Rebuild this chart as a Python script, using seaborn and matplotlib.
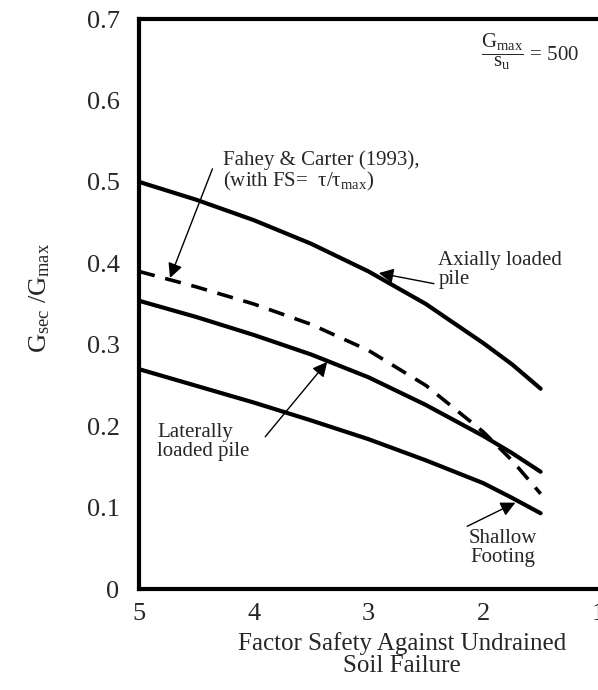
import numpy as np
import pandas as pd
import matplotlib
matplotlib.use("Agg")
import matplotlib.pyplot as plt
import seaborn as sns

# factor of safety (x axis runs from 5 down to 1)
fs = [5.0, 4.5, 4.0, 3.5, 3.0, 2.5, 2.0, 1.75, 1.5]

# Gsec/Gmax
axial = [0.500, 0.478, 0.453, 0.424, 0.390, 0.350, 0.302, 0.276, 0.246]
lateral = [0.354, 0.334, 0.312, 0.288, 0.260, 0.226, 0.188, 0.167, 0.144]
shallow = [0.270, 0.2495, 0.229, 0.207, 0.184, 0.158, 0.130, 0.112, 0.093]
fahey = [0.390, 0.371, 0.350, 0.325, 0.293, 0.250, 0.193, 0.158, 0.117]

x_ticks = [5, 4, 3, 2, 1]
y_ticks = [0, 0.1, 0.2, 0.3, 0.4, 0.5, 0.6, 0.7]
y_labels = ["0", "0.1", "0.2", "0.3", "0.4", "0.5", "0.6", "0.7"]

sns.set_style("white")
plt.rcParams["font.family"] = ["Liberation Serif", "DejaVu Serif"]
plt.rcParams["mathtext.fontset"] = "custom"
plt.rcParams["mathtext.rm"] = "Liberation Serif"
plt.rcParams["mathtext.it"] = "Liberation Serif:italic"

fig = plt.figure(figsize=(5.98, 6.90), dpi=100)
ax = fig.add_axes([139 / 598, 1 - 589 / 690, 459 / 598, 570 / 690])

df = pd.DataFrame({"fs": fs, "axial": axial, "lateral": lateral,
                   "shallow": shallow, "fahey": fahey})
for col in ["axial", "lateral", "shallow"]:
    sns.lineplot(data=df, x="fs", y=col, ax=ax, color="black", lw=3, sort=False)
sns.lineplot(data=df, x="fs", y="fahey", ax=ax, color="black", lw=2.6,
             sort=False, dashes=False, linestyle=(0, (4.5, 3)))

ax.set_xlim(5, 1)
ax.set_ylim(0, 0.7)
ax.set_xticks(x_ticks)
ax.set_xticklabels([str(t) for t in x_ticks])
ax.set_yticks(y_ticks)
ax.set_yticklabels(y_labels)
ax.tick_params(axis="both", direction="in", length=9, width=0.8,
               labelsize=19, color="#444444")
ax.tick_params(axis="y", pad=14)
ax.tick_params(axis="x", pad=10)

for s in ["left", "bottom", "top"]:
    ax.spines[s].set_linewidth(3)
    ax.spines[s].set_color("black")
ax.spines["right"].set_visible(False)

ax.set_xlabel("")
ax.set_ylabel(r"G$_{\mathrm{sec}}$ /G$_{\mathrm{max}}$", fontsize=19)
ax.yaxis.set_label_coords(-0.19, 0.51)

fig.text(402 / 598, 1 - 655 / 690, "Factor Safety Against Undrained\nSoil Failure",
         ha="center", va="center", fontsize=18, linespacing=1.0)

arrow = dict(arrowstyle="-|>", color="black", lw=1, mutation_scale=22,
             shrinkA=0, shrinkB=0)

ax.text(1.16, 0.660, r"$\dfrac{\mathrm{G_{max}}}{\mathrm{s_{u}}}$ = 500",
        ha="right", va="center", fontsize=15)

ax.text(4.27, 0.512, "Fahey & Carter (1993),\n(with FS=  \u03c4/\u03c4$_{\\mathrm{max}}$)",
        ha="left", va="center", fontsize=15, linespacing=1.0)
ax.annotate("", xy=(4.73, 0.382), xytext=(4.36, 0.516), arrowprops=arrow)

ax.text(2.39, 0.392, "Axially loaded\npile", ha="left", va="center",
        fontsize=15, linespacing=1.0)
ax.annotate("", xy=(2.91, 0.388), xytext=(2.43, 0.375), arrowprops=arrow)

ax.text(4.84, 0.18, "Laterally\nloaded pile", ha="left", va="center",
        fontsize=15, linespacing=1.0)
ax.annotate("", xy=(3.36, 0.279), xytext=(3.90, 0.187), arrowprops=arrow)

ax.text(2.13, 0.050, "Shallow\nFooting", ha="left", va="center",
        fontsize=15, linespacing=1.0, multialignment="center")
ax.annotate("", xy=(1.72, 0.106), xytext=(2.14, 0.077), arrowprops=arrow)

fig.savefig("out.png", dpi=100)
